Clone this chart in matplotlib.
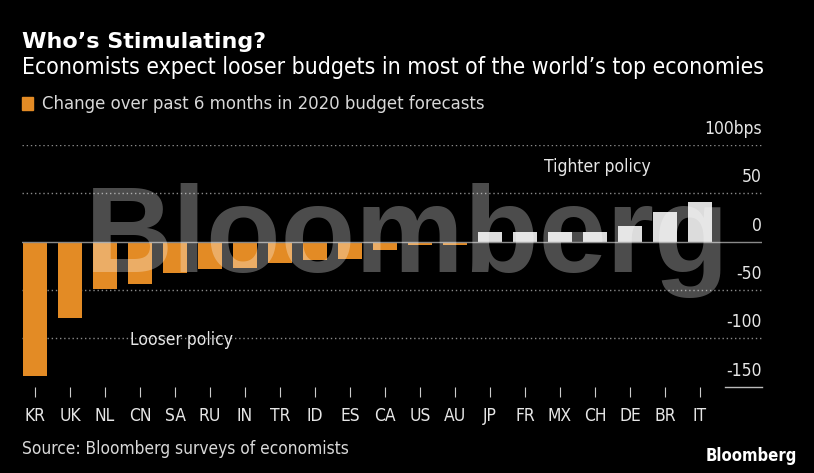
import matplotlib
matplotlib.use("Agg")
import matplotlib.pyplot as plt
import matplotlib.transforms as mtransforms

categories = ["KR", "UK", "NL", "CN", "SA", "RU", "IN", "TR", "ID", "ES",
              "CA", "US", "AU", "JP", "FR", "MX", "CH", "DE", "BR", "IT"]
values = [-139, -79, -49, -44, -33, -28, -27, -22, -19, -18,
          -9, -4, -4, 10, 10, 10, 10, 16, 31, 41]
ytick_vals = [100, 50, 0, -50, -100, -150]
ytick_labels = ["100bps", "50", "0", "-50", "-100", "-150"]

W, H = 814, 473
fig = plt.figure(figsize=(W / 100, H / 100), dpi=100, facecolor="black")

FONT = "DejaVu Sans"
COND = "condensed"
TXT = "#e6e6e6"
ORANGE = "#e38b25"
WHITE_BAR = "#dcdcdc"

def fx(px):
    return px / W

def fy(py):
    return 1 - py / H

ax_left, ax_right = 22, 762
ax_top, ax_bot = 145, 386.5
ax = fig.add_axes([fx(ax_left), fy(ax_bot), fx(ax_right - ax_left), (ax_bot - ax_top) / H])
ax.set_facecolor("black")
for s in ax.spines.values():
    s.set_visible(False)

xmin = (ax_left - 35) / 35
xmax = xmin + (ax_right - ax_left) / 35
ax.set_xlim(xmin, xmax)
ax.set_ylim(-150, 100)

# gridlines
for v in [100, 50, -50, -100]:
    ax.axhline(v, color="#8a8a8a", lw=1.0, ls=(0, (1, 2)), zorder=1)
ax.axhline(0, color="#8a8a8a", lw=1.0, zorder=3)
trans = mtransforms.blended_transform_factory(ax.transAxes, ax.transData)
ax.plot([0.95, 1.0], [-150, -150], color="#bbbbbb", lw=1.0, transform=trans, clip_on=False)

x = list(range(len(categories)))
colors = [ORANGE if v < 0 else WHITE_BAR for v in values]
ax.bar(x, values, width=0.69, color=colors, zorder=2)

# y labels (inside, right aligned, above lines)
up = mtransforms.ScaledTranslation(0, 16 / 100, fig.dpi_scale_trans)
for v, lab in zip(ytick_vals, ytick_labels):
    ax.text(1.0, v, lab, transform=trans + up, ha="right", va="center", color=TXT,
            fontsize=12.5, family=FONT, fontstretch=COND)

ax.set_xticks(x)
ax.set_xticklabels(categories, color=TXT, fontsize=12.5, family=FONT, fontstretch=COND)
ax.tick_params(axis="x", length=7, width=0.8, color="#cccccc", pad=8, direction="out")
ax.set_yticks([])

# annotations
fig.text(fx(130), fy(340), "Looser policy", color=TXT, fontsize=12.5, family=FONT,
         fontstretch=COND, ha="left", va="center", zorder=5)
fig.text(fx(597), fy(167), "Tighter policy", color=TXT, fontsize=12.5, family=FONT,
         fontstretch=COND, ha="center", va="center", zorder=5)

# watermark
fig.text(fx(407), fy(272), "Bloomberg", color="white", alpha=0.3, fontsize=88,
         family="Liberation Sans", fontweight="bold", ha="center", va="baseline", zorder=10)

# titles
fig.text(fx(22), fy(48), "Who\u2019s Stimulating?", color="white", fontsize=16,
         family=FONT, fontweight="bold", ha="left", va="baseline")
fig.text(fx(22), fy(74), "Economists expect looser budgets in most of the world\u2019s top economies",
         color="white", fontsize=16.5, family=FONT, fontstretch=COND, ha="left", va="baseline")
fig.add_artist(plt.Rectangle((fx(22), fy(110)), fx(11), 13 / H, transform=fig.transFigure,
                             color=ORANGE))
fig.text(fx(42), fy(104), "Change over past 6 months in 2020 budget forecasts", color="#d8d8d8",
         fontsize=13.2, family=FONT, fontstretch=COND, ha="left", va="center")
fig.text(fx(22), fy(449), "Source: Bloomberg surveys of economists", color="#d8d8d8",
         fontsize=12.4, family=FONT, fontstretch=COND, ha="left", va="center")
fig.text(fx(797), fy(456), "Bloomberg", color="white", fontsize=12,
         family=FONT, fontstretch=COND, fontweight="bold", ha="right", va="center")

fig.savefig("out.png", dpi=100, facecolor="black")
